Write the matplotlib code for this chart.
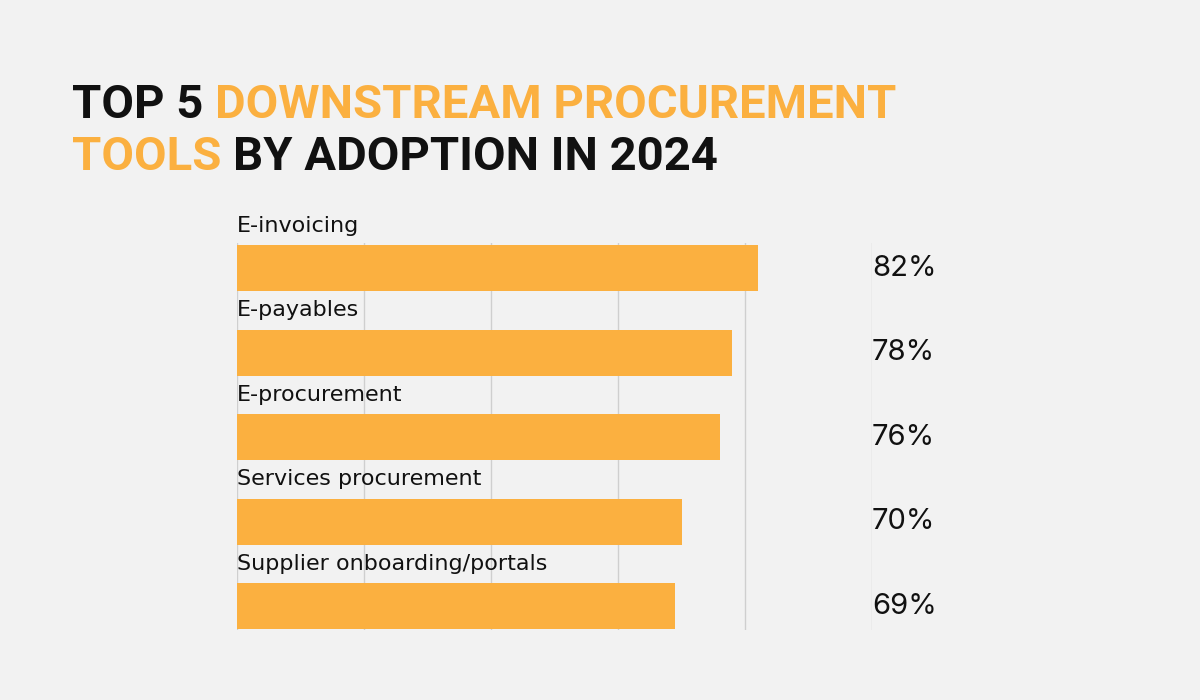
import matplotlib.pyplot as plt

# datos
categorias = ["E-invoicing", "E-payables", "E-procurement",
              "Services procurement", "Supplier onboarding/portals"]
valores = [82, 78, 76, 70, 69]
ticks = [0, 20, 40, 60, 80, 100]

titulo_l1 = [("TOP 5 ", "#111111"), ("DOWNSTREAM PROCUREMENT", "#FBB040")]
titulo_l2 = [("TOOLS ", "#FBB040"), ("BY ADOPTION IN 2024", "#111111")]

fondo = "#F2F2F2"
naranja = "#FBB040"

fig = plt.figure(figsize=(12, 7), dpi=100, facecolor=fondo)
ax = fig.add_axes([237 / 1200, 0.1, 635 / 1200, 387 / 700])
ax.set_facecolor(fondo)

alto = 0.544
y = list(range(len(categorias)))
ax.barh(y, valores, height=alto, color=naranja, zorder=2)

ax.set_xlim(0, 100)
ax.set_ylim(4.28, -0.30)
for t in ticks:
    ax.axvline(t, color="#cfcfcf", lw=1, zorder=1)

for i, (cat, v) in enumerate(zip(categorias, valores)):
    ax.annotate(cat, xy=(0, i - alto / 2), xytext=(0, 7), textcoords="offset points",
                ha="left", va="bottom", fontsize=16, family="DejaVu Sans",
                color="#111111", zorder=3, annotation_clip=False)
    ax.annotate(f"{v}%", xy=(100, i), xytext=(0, 0), textcoords="offset points",
                ha="left", va="center", fontsize=21, family=["Inter", "DejaVu Sans"],
                color="#111111", annotation_clip=False)

ax.set_xticks([])
ax.set_yticks([])
for s in ax.spines.values():
    s.set_visible(False)

# titulo en dos lineas con colores mezclados
fam_t = ["Roboto", "DejaVu Sans"]
for linea, ypix in ((titulo_l1, 118), (titulo_l2, 170)):
    prev = None
    for texto, col in linea:
        if prev is None:
            prev = fig.text(72 / 1200, 1 - ypix / 700, texto, color=col, fontsize=34,
                            fontweight="bold", family=fam_t, ha="left", va="baseline")
        else:
            prev = ax.annotate(texto, xy=(1, 0), xycoords=prev, ha="left", va="bottom",
                               color=col, fontsize=34, fontweight="bold", family=fam_t,
                               annotation_clip=False)

fig.savefig("out.png", dpi=100, facecolor=fondo)
